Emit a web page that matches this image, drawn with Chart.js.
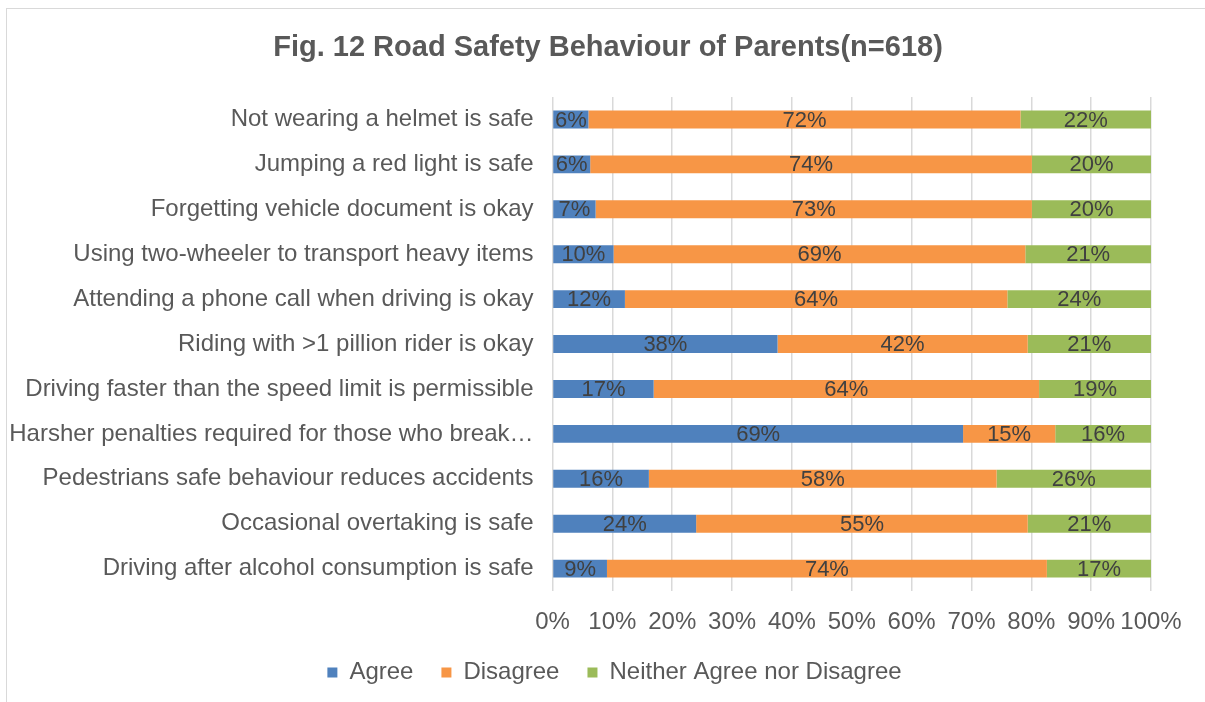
<!DOCTYPE html>
<html>
<head>
<meta charset="utf-8">
<script src="https://cdn.jsdelivr.net/npm/chart.js@4.4.0/dist/chart.umd.min.js"></script>
<style>
  html, body { margin: 0; padding: 0; background: #fff; }
  #frame { position: absolute; left: 6px; top: 8px; width: 1199px; height: 694px;
           border-left: 1px solid #d9d9d9; border-top: 1px solid #d9d9d9; }
  canvas { position: absolute; left: 0; top: 0; }
</style>
</head>
<body>
<div id="frame"></div>
<canvas id="roadChart" width="1205" height="702"></canvas>
<script>
const labels = [
  "Not wearing a helmet is safe",
  "Jumping a red light is safe",
  "Forgetting vehicle document is okay",
  "Using two-wheeler to transport heavy items",
  "Attending a phone call when driving is okay",
  "Riding with >1 pillion rider is okay",
  "Driving faster than the speed limit is permissible",
  "Harsher penalties required for those who break\u2026",
  "Pedestrians safe behaviour reduces accidents",
  "Occasional overtaking is safe",
  "Driving after alcohol consumption is safe"
];
const agree    = [6.0, 6.3, 7.2, 10.2, 12.1, 37.6, 16.9, 68.6, 16.1, 24.0, 9.1];
const disagree = [72.2, 73.8, 72.9, 68.8, 63.9, 41.8, 64.4, 15.4, 58.1, 55.4, 73.5];
const neither  = [21.8, 19.9, 19.9, 21.0, 24.0, 20.6, 18.7, 16.0, 25.8, 20.6, 17.4];
const xTicks = [0, 10, 20, 30, 40, 50, 60, 70, 80, 90, 100];
const titleText = "Fig. 12 Road Safety Behaviour of Parents(n=618)";

const font = "'Liberation Sans', Arial, sans-serif";

// title is drawn by hand so it can sit over the whole picture, not just the padded box
const figTitle = {
  id: "figTitle",
  afterDraw(chart) {
    const c = chart.ctx;
    c.save();
    c.font = "bold 29px " + font;
    c.fillStyle = "#595959";
    c.textAlign = "center";
    c.textBaseline = "middle";
    c.fillText(titleText, 608, 48);
    c.restore();
  }
};

// nudge the legend so it is centred on the page like the original
const legendShift = {
  id: "legendShift",
  afterLayout(chart) {
    const lg = chart.legend;
    lg.left += 39;
    lg.right += 39;
    lg.top = 632.6;
    lg.bottom = lg.top + lg.height;
  }
};

// the % figure in the middle of every segment
const segLabels = {
  id: "segLabels",
  afterDatasetsDraw(chart) {
    const c = chart.ctx;
    c.save();
    c.font = "22px " + font;
    c.fillStyle = "#404040";
    c.textAlign = "center";
    c.textBaseline = "middle";
    chart.data.datasets.forEach((ds, i) => {
      chart.getDatasetMeta(i).data.forEach((bar, j) => {
        const p = bar.getProps(["x", "y", "base"], true);
        c.fillText(Math.round(ds.data[j]) + "%", (p.x + p.base) / 2, p.y + 1);
      });
    });
    c.restore();
  }
};

new Chart(document.getElementById("roadChart"), {
  type: "bar",
  data: {
    labels: labels,
    datasets: [
      { label: "Agree", data: agree, backgroundColor: "#4f81bd" },
      { label: "Disagree", data: disagree, backgroundColor: "#f79646" },
      { label: "Neither Agree nor Disagree", data: neither, backgroundColor: "#9bbb59" }
    ]
  },
  options: {
    indexAxis: "y",
    responsive: false,
    animation: false,
    barPercentage: 0.4,
    categoryPercentage: 1,
    layout: { padding: { left: 0, right: 54, top: 97, bottom: 0 } },
    scales: {
      x: {
        stacked: true,
        min: 0,
        max: 100,
        afterBuildTicks: (s) => { s.ticks = xTicks.map(v => ({ value: v })); },
        afterFit: (s) => { s.height = 48.9; },
        ticks: {
          callback: (v) => v + "%",
          color: "#595959",
          font: { family: font, size: 24 },
          padding: 16.5,
          maxRotation: 0,
          autoSkip: false
        },
        grid: { color: "#d9d9d9", lineWidth: 1.5, drawTicks: false },
        border: { display: false }
      },
      y: {
        stacked: true,
        afterFit: (s) => { s.width = 552.5; },
        ticks: {
          color: "#595959",
          font: { family: font, size: 24 },
          padding: 11
        },
        grid: { display: false },
        border: { display: false }
      }
    },
    plugins: {
      title: { display: false },
      legend: {
        position: "bottom",
        labels: {
          color: "#595959",
          font: { family: font, size: 24 },
          boxWidth: 10,
          boxHeight: 10,
          padding: 28
        }
      },
      tooltip: { enabled: false }
    }
  },
  plugins: [segLabels, figTitle, legendShift]
});
</script>
</body>
</html>
